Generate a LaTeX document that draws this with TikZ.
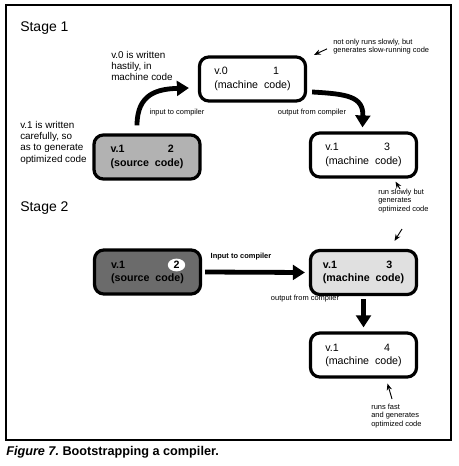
\documentclass[tikz,border=0pt]{standalone}
\usepackage{fontspec}
\setmainfont{Liberation Sans}
\usetikzlibrary{arrows.meta,calc,shapes.geometric}
\begin{document}
\begin{tikzpicture}[x=0.75pt,y=-0.75pt,
  box/.style={draw=black,line width=2.4pt,rounded corners=7pt,minimum width=106*0.75pt,minimum height=44*0.75pt,inner sep=0pt,font=\fontsize{8}{10}\selectfont},
  note/.style={align=left,inner sep=0pt,anchor=north west,font=\fontsize{7.4}{8.4}\selectfont},
  small/.style={align=left,inner sep=0pt,font=\fontsize{5.6}{6.2}\selectfont},
  bigarrow/.style={line width=3.6pt,-{Triangle[length=9pt,width=11pt]}},
  thin/.style={line width=0.7pt,-{Stealth[length=5pt,width=4pt]}},
  stagelbl/.style={anchor=base west,inner sep=0pt,font=\fontsize{10.5}{12}\selectfont}]
\useasboundingbox (0,0) rectangle (458,466);
\draw[line width=0.8pt] (6,5) rectangle (451,440);
% stage labels
\node[stagelbl] (s1) at (20,32) {Stage 1};
\node[stagelbl] (s2) at (20,211) {Stage 2};
% boxes
\node[box,fill=white] (B1) at (252.5,79) {\begin{tabular}{@{}l@{}}v.0\hfill 1\hspace*{1.1em}\\(machine\ \ code)\end{tabular}};
\node[box,fill=black!30] (B2) at (147,157) {\bfseries\begin{tabular}{@{}l@{}}v.1\hfill 2\hspace*{0.9em}\\(source\ \ code)\end{tabular}};
\node[box,fill=white] (B3) at (363.5,155) {\begin{tabular}{@{}l@{}}v.1\hfill 3\hspace*{1.1em}\\(machine\ \ code)\end{tabular}};
\node[box,fill=black!58] (B4) at (147.5,272) {\bfseries\begin{tabular}{@{}l@{}}v.1\hfill\phantom{2}\hspace*{0.9em}\\(source\ \ code)\end{tabular}};
\node[fill=white,ellipse,inner sep=0.6pt,minimum width=13pt,minimum height=9.5pt,font=\fontsize{8}{10}\selectfont\bfseries] (c2) at ($(B4.center)+(29,-7)$) {2};
\node[box,fill=black!12] (B5) at (363.5,272.5) {\bfseries\begin{tabular}{@{}l@{}}v.1\hfill 3\hspace*{1.1em}\\(machine\ \ code)\end{tabular}};
\node[box,fill=white] (B6) at (363.5,355) {\begin{tabular}{@{}l@{}}v.1\hfill 4\hspace*{1.1em}\\(machine\ \ code)\end{tabular}};
% notes
\node[note] (n1) at (111,51) {v.0 is written\\hastily, in\\machine code};
\node[note] (n2) at (20,121) {v.1 is written\\carefully, so\\as to generate\\optimized code};
\node[small,anchor=north west] (n3) at (333,39) {not only runs slowly, but\\generates slow-running code};
\node[small,anchor=north west] (n4) at (378,189) {run slowly but\\generates\\optimized code};
\node[small,anchor=north west] (n5) at (371,404) {runs fast\\and generates\\optimized code};
\node[small] (l1) at (177,113) {input to compiler};
\node[small] (l2) at (312,113) {output from compiler};
\node[small,font=\fontsize{5.6}{6.2}\selectfont\bfseries] (l3) at (241,257) {Input to compiler};
\node[small] (l4) at (305,299) {output from compiler};
% big arrows
\draw[bigarrow] ($(B2.north)+(-10,-8)$) .. controls ($(B2.north)+(-10,-40)$) and ($(B1.west)+(-40,10)$) .. ($(B1.west)+(-9,9)$);
\draw[bigarrow] ($(B1.east)+(5,13)$) .. controls ($(B1.east)+(40,15)$) and ($(B3.north)+(0,-35)$) .. ($(B3.north)+(-1,-4)$);
\draw[bigarrow] ($(B4.east)+(3,0)$) -- ($(B5.west)+(-4,0)$);
\draw[bigarrow] ($(B5.south)+(0,3)$) -- ($(B6.north)+(0,-4)$);
% thin arrows
\draw[thin] ($(n3.west)+(-6,2)$) -- ($(n3.west)+(-19,8)$);
\draw[thin] ($(n4.north west)+(22,0)$) -- ($(B3.south)+(32,3)$);
\draw[thin] ($(n4.south west)+(24,16)$) -- ($(B5.north)+(31,-8)$);
\draw[thin] ($(n5.north west)+(21,-5)$) -- ($(B6.south)+(24,5)$);
% caption
\node[anchor=west,inner sep=0pt,font=\fontsize{9.5}{11}\selectfont\bfseries] (cap) at (6,452) {\itshape Figure 7.\upshape\ Bootstrapping a compiler.};
\end{tikzpicture}
\end{document}
